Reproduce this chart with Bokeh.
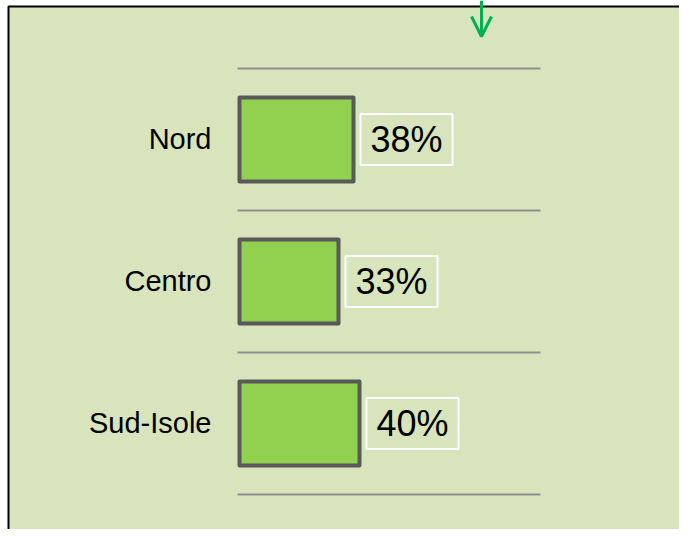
from bokeh.plotting import figure
from bokeh.models import Range1d, Arrow, OpenHead
from bokeh.embed import file_html
from bokeh.resources import INLINE
from bokeh.core.properties import value

# ---- data ----
regions = ["Nord", "Centro", "Sud-Isole"]
shares = [38, 33, 40]
share_labels = ["38%", "33%", "40%"]

positions = list(range(len(regions)))
boundaries = [i - 0.5 for i in range(len(regions) + 1)]
axis_min, axis_max = -0.67, 100.33

W, H = 679, 529
p = figure(width=W, height=H, output_backend="svg", toolbar_location=None,
           x_range=Range1d(-79.667, 146.667), y_range=Range1d(2.74648, -0.97887),
           x_axis_location=None, y_axis_location=None,
           min_border=0)
p.background_fill_color = "white"
p.border_fill_color = "white"
p.outline_line_color = None
p.grid.visible = False

# chart area panel (left/top edges visible, others run off the canvas)
p.quad(left=[-77], right=[170], top=[-0.93662], bottom=[3.2],
       fill_color="#d8e4bc", line_color="black", line_width=2)

# separators
p.segment(x0=[axis_min] * len(boundaries), y0=boundaries,
          x1=[axis_max] * len(boundaries), y1=boundaries,
          line_color="#8f8f8f", line_width=2)

# bars
p.hbar(y=positions, left=0, right=shares, height=0.59,
       fill_color="#92d050", line_color="#595959", line_width=4, line_join="round")

# category labels
p.text(x=0, y=positions, text=regions, x_offset=-28,
       text_align="right", text_baseline="middle",
       text_font=value("Liberation Sans"), text_font_size="29px", text_color="black")

# value labels with white box
p.text(x=shares, y=positions, text=share_labels, x_offset=7,
       text_align="left", text_baseline="middle",
       text_font=value("Liberation Sans"), text_font_size="36px", text_color="black",
       border_line_color="white", border_line_width=2, padding=(10, 5))

# arrow
p.add_layout(Arrow(end=OpenHead(size=20, line_color="#00b050", line_width=3),
                   x_start=80.667, y_start=-0.97887, x_end=80.667, y_end=-0.72535,
                   line_color="#00b050", line_width=3))

open("out.html", "w").write(file_html(p, INLINE))
